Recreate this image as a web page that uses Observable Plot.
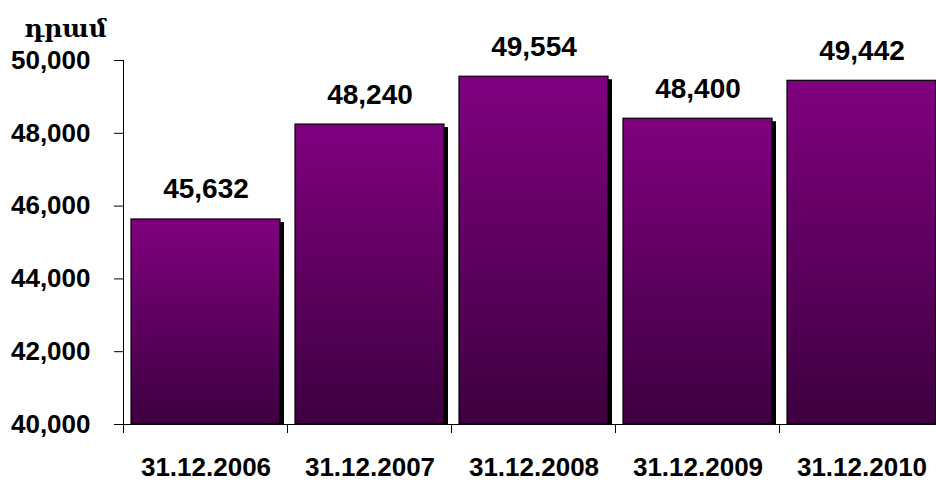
<!DOCTYPE html>
<html>
<head>
<meta charset="utf-8">
<script src="https://cdn.jsdelivr.net/npm/d3@7"></script>
<script src="https://cdn.jsdelivr.net/npm/@observablehq/plot@0.6"></script>
<style>
  html, body { margin: 0; padding: 0; background: #fff; }
  #chart { position: relative; width: 936px; height: 484px; }
</style>
</head>
<body>
<div id="chart"></div>
<script>
const categories = ["31.12.2006", "31.12.2007", "31.12.2008", "31.12.2009", "31.12.2010"];
const values = [45632, 48240, 49554, 48400, 49442];
const yTicks = [40000, 42000, 44000, 46000, 48000, 50000];
const unitLabel = "դրամ";

const data = categories.map((c, i) => ({date: c, value: values[i]}));
const fmt = d3.format(",");

const plot = Plot.plot({
  width: 936,
  height: 484,
  marginLeft: 123,
  marginRight: 0,
  marginTop: 60,
  marginBottom: 60,
  style: {fontFamily: "'Liberation Sans', Arial, sans-serif", fontWeight: "bold", color: "#000", background: "#fff", overflow: "visible"},
  x: {domain: categories, range: [123, 944], paddingInner: 0.09, paddingOuter: 0.045, label: null},
  y: {domain: [40000, 50000], label: null},
  marks: [
    Plot.barY(data, {x: "date", y1: 40000, y2: "value", fill: "#000", dx: 4, dy: 3, clip: "frame"}),
    Plot.barY(data, {x: "date", y1: 40000, y2: "value", fill: "url(#barGrad)", stroke: "#000", strokeWidth: 1.2}),
    Plot.text(data, {x: "date", y: "value", text: d => fmt(d.value), dy: -30, fontSize: 28, fontWeight: "bold", fill: "#000"}),
    Plot.ruleY([40000], {stroke: "#000", strokeWidth: 1}),
    Plot.frame({anchor: "left", stroke: "#000", strokeWidth: 1}),
    Plot.axisY({ticks: yTicks, tickSize: 9, tickPadding: 24, tickFormat: fmt, fontSize: 26, fontWeight: "bold", label: null, stroke: "#000"}),
    Plot.axisX({tickSize: 0, tickPadding: 33, fontSize: 26, fontWeight: "bold", label: null}),
    Plot.text([unitLabel], {frameAnchor: "top-left", textAnchor: "middle", dx: -58, dy: -41, fontSize: 25, fontWeight: "bold", fontFamily: "'DejaVu Serif', serif", fill: "#000"})
  ]
});

const svg = d3.select(plot);
const defs = svg.insert("defs", ":first-child");
const grad = defs.append("linearGradient").attr("id", "barGrad").attr("x1", 0).attr("y1", 0).attr("x2", 0).attr("y2", 1);
grad.append("stop").attr("offset", "0%").attr("stop-color", "#800080");
grad.append("stop").attr("offset", "100%").attr("stop-color", "#3d003f");

// category boundary ticks on the x axis
const xs = plot.scale("x");
const ys = plot.scale("y");
const y0 = ys.apply(40000);
const half = (xs.step - xs.bandwidth) / 2;
const bounds = categories.map(c => xs.apply(c) - half);
bounds.push(xs.apply(categories[categories.length - 1]) + xs.bandwidth + half);
svg.append("g").selectAll("line").data(bounds).join("line")
  .attr("x1", d => d).attr("x2", d => d)
  .attr("y1", y0).attr("y2", y0 + 9)
  .attr("stroke", "#000").attr("stroke-width", 1);

document.getElementById("chart").appendChild(plot);
</script>
</body>
</html>
